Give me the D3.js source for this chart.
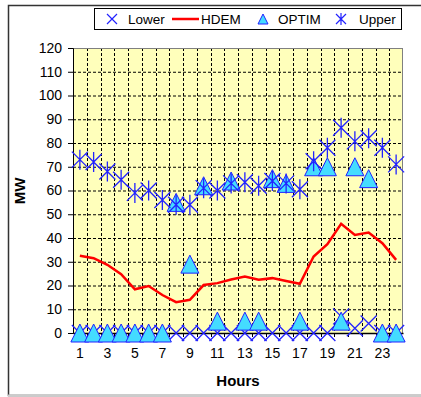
<!DOCTYPE html>
<html>
<head>
<meta charset="utf-8">
<script src="https://cdn.jsdelivr.net/npm/d3@7"></script>
<style>
  body { margin: 0; background: #fff; }
  text { font-family: Arial, "Liberation Sans", sans-serif; }
</style>
</head>
<body>
<div id="chart"></div>
<script>
// Data
var hours = d3.range(1, 25);
var lower = [0,0,0,0,0,0,0,0,0,0,0,0,0,0,0,0,0,0,0,7,2,4,0,0];
var hdem  = [32.5,31.5,28.7,24.8,18.4,19.8,16,13,14,20.2,21,22.5,23.8,22.4,23.1,21.9,20.7,32.2,37.4,46,41.3,42.3,37.8,30.8];
var optim = [0,0,0,0,0,0,0,55,29,62,5,64,5,5,65,63,5,70,70,5,70,65,0,0];
var upper = [73,72,68,64.5,59,60,56,54,54,61,60,63,63.5,62,64,63,60.5,72.3,78,86.4,80.7,82,78,71];
var yTicks = d3.range(0, 121, 10);
var xLabels = d3.range(1, 25, 2);

var W = 421, H = 397;
var margin = {top: 48, right: 18, bottom: 64, left: 73},
    width = W - margin.left - margin.right,
    height = H - margin.top - margin.bottom;

var blue = "#2222ff", cyan = "#44dcff", red = "#ff0000";

var svg = d3.select("#chart").append("svg")
    .attr("width", W)
    .attr("height", H);

// outer chart border (runs off the right edge)
svg.append("rect")
    .attr("x", 8.5).attr("y", 5.5)
    .attr("width", 430).attr("height", 390)
    .attr("fill", "#fff")
    .attr("stroke", "#333")
    .attr("stroke-width", 1.5);
svg.append("line")
    .attr("x1", 8).attr("x2", W).attr("y1", 395.5).attr("y2", 395.5)
    .attr("stroke", "#ccc").attr("stroke-width", 2);

var g = svg.append("g")
    .attr("transform", "translate(" + margin.left + "," + margin.top + ")");

var x = d3.scaleBand().domain(hours).range([0, width]).padding(0);
var y = d3.scaleLinear().domain([0, 120]).range([height, 0]);
var cx = function(h) { return x(h) + x.bandwidth() / 2; };

// plot area
g.append("rect")
    .attr("width", width).attr("height", height)
    .attr("fill", "#ffffbb");

// horizontal gridlines
g.append("g").selectAll("line")
    .data(yTicks.filter(function(d) { return d > 0; }))
    .join("line")
    .attr("x1", 0).attr("x2", width)
    .attr("y1", function(d) { return y(d) + 0.5; })
    .attr("y2", function(d) { return y(d) + 0.5; })
    .attr("stroke", "#000").attr("stroke-dasharray", "3,2");

// vertical gridlines at category boundaries
g.append("g").selectAll("line")
    .data(hours.slice(1))
    .join("line")
    .attr("x1", function(d) { return Math.round(x(d)) + 0.5; })
    .attr("x2", function(d) { return Math.round(x(d)) + 0.5; })
    .attr("y1", 0).attr("y2", height)
    .attr("stroke", "#000").attr("stroke-dasharray", "3,2");

// plot border
g.append("rect")
    .attr("x", 0.5).attr("y", 0.5)
    .attr("width", width - 1).attr("height", height)
    .attr("fill", "none").attr("stroke", "#808080");

// Y axis
var yAxis = g.append("g")
    .call(d3.axisLeft(y).tickValues(yTicks).tickSize(5).tickPadding(6));
yAxis.select(".domain").attr("stroke", "#000");
yAxis.selectAll("text").attr("font-size", 14).attr("fill", "#000");

// X axis at zero
var xAxis = g.append("g")
    .attr("transform", "translate(0," + height + ")")
    .call(d3.axisBottom(x).tickValues(xLabels).tickSize(0).tickPadding(15));
xAxis.select(".domain").attr("stroke", "#000").attr("stroke-width", 1.5);
xAxis.selectAll("text").attr("font-size", 14).attr("fill", "#000");
g.append("g").selectAll("line")
    .data(hours.slice(1))
    .join("line")
    .attr("x1", function(d) { return Math.round(x(d)) + 0.5; })
    .attr("x2", function(d) { return Math.round(x(d)) + 0.5; })
    .attr("y1", height).attr("y2", height + 4)
    .attr("stroke", "#000");

// axis titles
svg.append("text")
    .attr("x", margin.left + width / 2)
    .attr("y", 386)
    .attr("text-anchor", "middle")
    .attr("font-size", 15).attr("font-weight", "bold")
    .text("Hours");
svg.append("text")
    .attr("transform", "translate(25,191) rotate(-90)")
    .attr("text-anchor", "middle")
    .attr("font-size", 15).attr("font-weight", "bold")
    .text("MW");

// marker shapes
var crossPath = "M-8,-8L8,8M8,-8L-8,8";
var starPath = "M-8,-8L8,8M8,-8L-8,8M0,-10L0,10";
var triPath = "M0,-9L9,9L-9,9Z";

// Lower
g.append("g").selectAll("path")
    .data(hours)
    .join("path")
    .attr("transform", function(d, i) { return "translate(" + cx(d) + "," + y(lower[i]) + ")"; })
    .attr("d", crossPath)
    .attr("stroke", blue).attr("stroke-width", 1.3).attr("fill", "none");

// HDEM
var line = d3.line()
    .x(function(d, i) { return cx(hours[i]); })
    .y(function(d) { return y(d); });
g.append("path")
    .datum(hdem)
    .attr("d", line)
    .attr("fill", "none")
    .attr("stroke", red).attr("stroke-width", 2.5);

// OPTIM
g.append("g").selectAll("path")
    .data(hours)
    .join("path")
    .attr("transform", function(d, i) { return "translate(" + cx(d) + "," + y(optim[i]) + ")"; })
    .attr("d", triPath)
    .attr("fill", cyan).attr("stroke", blue).attr("stroke-width", 1);

// Upper
g.append("g").selectAll("path")
    .data(hours)
    .join("path")
    .attr("transform", function(d, i) { return "translate(" + cx(d) + "," + y(upper[i]) + ")"; })
    .attr("d", starPath)
    .attr("stroke", blue).attr("stroke-width", 1.3).attr("fill", "none");

// Legend
var legend = svg.append("g");
legend.append("rect")
    .attr("x", 94.5).attr("y", 8.5)
    .attr("width", 307).attr("height", 21)
    .attr("fill", "#fff").attr("stroke", "#000");
var items = [
    {name: "Lower", kind: "cross", mx: 112, tx: 128},
    {name: "HDEM", kind: "line", mx: 186, tx: 201},
    {name: "OPTIM", kind: "tri", mx: 263, tx: 278},
    {name: "Upper", kind: "star", mx: 341, tx: 359}
];
items.forEach(function(it) {
    var cy = 19;
    if (it.kind === "line") {
        legend.append("line")
            .attr("x1", it.mx - 14).attr("x2", it.mx + 13)
            .attr("y1", cy).attr("y2", cy)
            .attr("stroke", red).attr("stroke-width", 2.5);
    } else if (it.kind === "tri") {
        legend.append("path")
            .attr("transform", "translate(" + it.mx + "," + cy + ")")
            .attr("d", "M0,-5L5,5L-5,5Z")
            .attr("fill", cyan).attr("stroke", blue);
    } else {
        legend.append("path")
            .attr("transform", "translate(" + it.mx + "," + cy + ")")
            .attr("d", it.kind === "cross" ? "M-5,-5L5,5M5,-5L-5,5" : "M-5,-5L5,5M5,-5L-5,5M0,-6L0,6")
            .attr("stroke", blue).attr("stroke-width", 1.2).attr("fill", "none");
    }
    legend.append("text")
        .attr("x", it.tx).attr("y", 24)
        .attr("font-size", 13.5)
        .text(it.name);
});
</script>
</body>
</html>
